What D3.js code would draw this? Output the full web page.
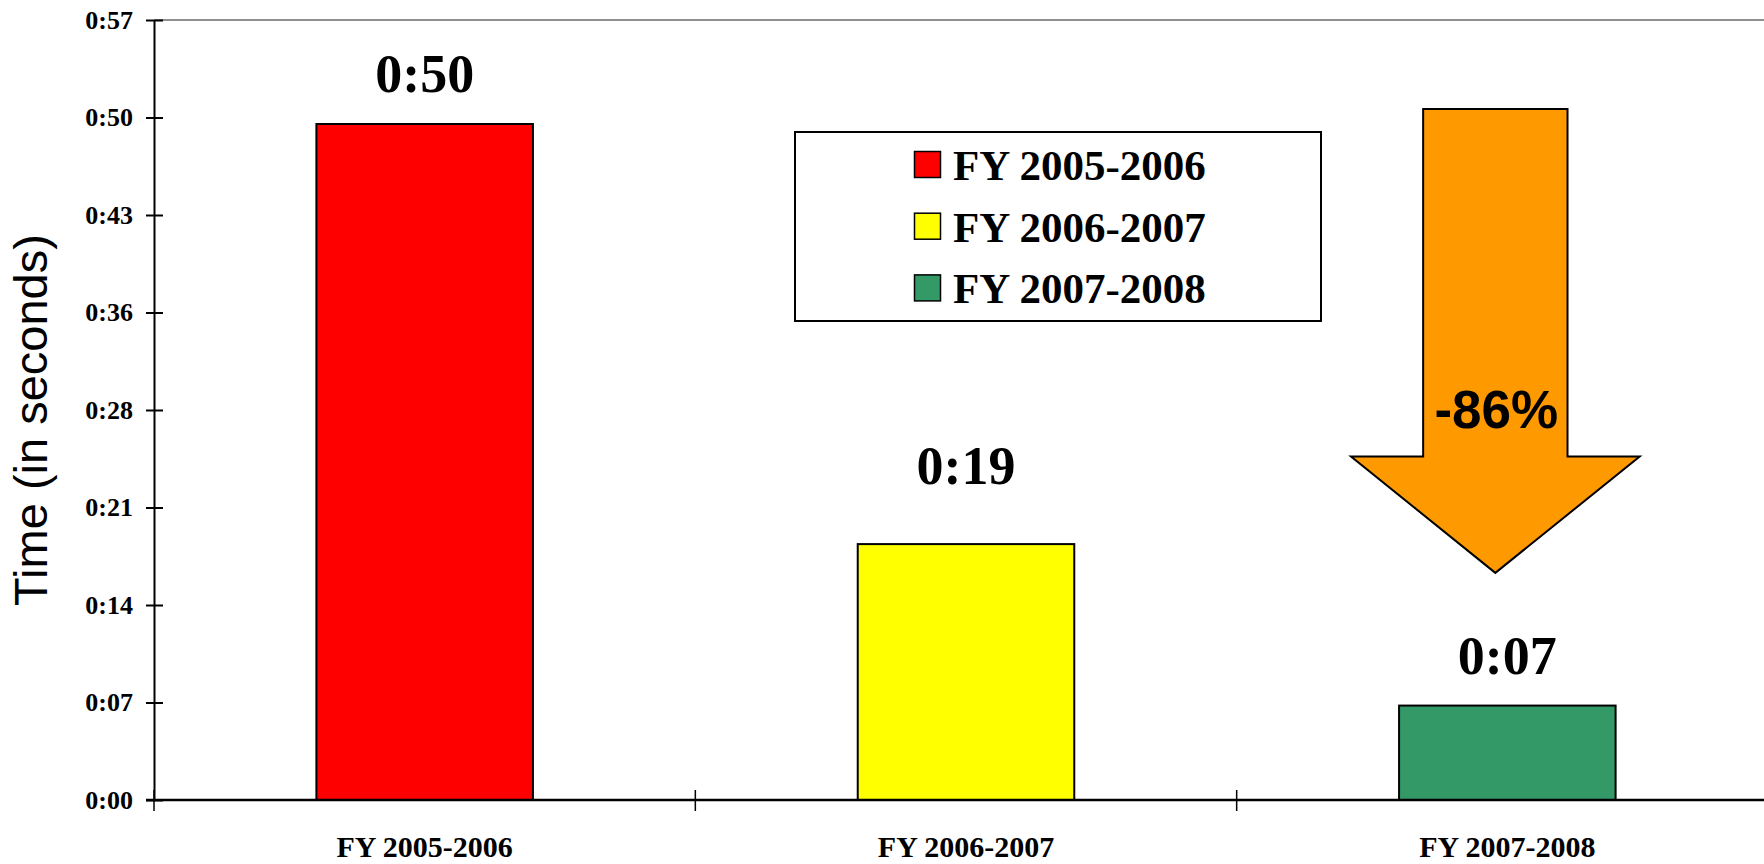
<!DOCTYPE html>
<html>
<head>
<meta charset="utf-8">
<script src="https://cdn.jsdelivr.net/npm/d3@7"></script>
<style>
  html, body { margin: 0; padding: 0; background: #fff; }
  svg { display: block; }
</style>
</head>
<body>
<svg class="display"></svg>
<script>
const categories = ['FY 2005-2006', 'FY 2006-2007', 'FY 2007-2008'];
const seconds = [49.4, 18.7, 6.9];
const valueLabels = ['0:50', '0:19', '0:07'];
const colors = ['#FF0000', '#FFFF00', '#339966'];
const yTickLabels = ['0:00', '0:07', '0:14', '0:21', '0:28', '0:36', '0:43', '0:50', '0:57'];
const yMax = 57;

// the change arrow, in seconds on the y axis
const arrowTop = 50.5;
const arrowNeck = 25.1;
const arrowTip = 16.6;
const arrowText = '-86%';

const width = 1764;
const height = 864;
const serif = '"Times New Roman", "Liberation Serif", serif';
const sans = 'Arial, "Liberation Sans", sans-serif';

const svg = d3.select('.display')
  .attr('width', width)
  .attr('height', height);

const x = d3.scaleBand()
  .domain(categories)
  .range([154, 1778])
  .paddingInner(0.6)
  .paddingOuter(0.3);

const y = d3.scaleLinear()
  .domain([0, yMax])
  .range([800, 20]);

const color = d3.scaleOrdinal().domain(categories).range(colors);

// top border of plot area
svg.append('line')
  .attr('x1', x.range()[0]).attr('x2', width)
  .attr('y1', y(yMax)).attr('y2', y(yMax))
  .attr('stroke', '#909090')
  .attr('stroke-width', 2);

// y axis
const yTicks = yTickLabels.map((d, i) => i * yMax / (yTickLabels.length - 1));
const yAxis = d3.axisLeft(y)
  .tickValues(yTicks)
  .tickFormat((d, i) => yTickLabels[i])
  .tickSizeOuter(0)
  .tickSizeInner(8)
  .tickPadding(13);

const gy = svg.append('g')
  .attr('transform', 'translate(' + x.range()[0] + ',0)')
  .call(yAxis);
gy.select('.domain').attr('stroke', '#000').attr('stroke-width', 2);
gy.selectAll('.tick line')
  .attr('x1', 9)
  .attr('stroke', '#000')
  .attr('stroke-width', 2);
gy.selectAll('.tick text')
  .attr('font-family', serif)
  .attr('font-weight', 'bold')
  .attr('font-size', 26)
  .attr('fill', '#000');

// bars
svg.append('g').selectAll('rect')
  .data(categories)
  .join('rect')
    .attr('x', d => x(d))
    .attr('y', (d, i) => y(seconds[i]))
    .attr('width', x.bandwidth())
    .attr('height', (d, i) => y(0) - y(seconds[i]))
    .attr('fill', d => color(d))
    .attr('stroke', '#000')
    .attr('stroke-width', 2);

// x axis line
svg.append('line')
  .attr('x1', x.range()[0] - 8).attr('x2', width)
  .attr('y1', y(0)).attr('y2', y(0))
  .attr('stroke', '#000')
  .attr('stroke-width', 2.5);

// category separators
const bounds = categories.map(d => x(d) - x.step() * x.paddingOuter());
svg.append('g').selectAll('line')
  .data(bounds)
  .join('line')
    .attr('x1', d => d).attr('x2', d => d)
    .attr('y1', y(0) - 10).attr('y2', y(0) + 11)
    .attr('stroke', '#000')
    .attr('stroke-width', 1.5);

// category labels
svg.append('g').selectAll('text')
  .data(categories)
  .join('text')
    .attr('x', d => x(d) + x.bandwidth() / 2)
    .attr('y', 857)
    .attr('text-anchor', 'middle')
    .attr('font-family', serif)
    .attr('font-weight', 'bold')
    .attr('font-size', 30)
    .text(d => d);

// value labels
const labelLift = [32, 60, 32];
svg.append('g').selectAll('text')
  .data(categories)
  .join('text')
    .attr('x', d => x(d) + x.bandwidth() / 2)
    .attr('y', (d, i) => y(seconds[i]) - labelLift[i])
    .attr('text-anchor', 'middle')
    .attr('font-family', serif)
    .attr('font-weight', 'bold')
    .attr('font-size', 54)
    .text((d, i) => valueLabels[i]);

// y title
svg.append('text')
  .attr('transform', 'translate(47,420) rotate(-90)')
  .attr('text-anchor', 'middle')
  .attr('font-family', sans)
  .attr('font-size', 47)
  .text('Time (in seconds)');

// legend
const legend = svg.append('g').attr('transform', 'translate(795,132)');
legend.append('rect')
  .attr('width', 526)
  .attr('height', 189)
  .attr('fill', '#fff')
  .attr('stroke', '#000')
  .attr('stroke-width', 2);

const item = legend.selectAll('g')
  .data(categories)
  .join('g')
    .attr('transform', (d, i) => 'translate(0,' + (48 + i * 61.7) + ')');
item.append('rect')
  .attr('x', 119.5)
  .attr('y', -28.5)
  .attr('width', 26)
  .attr('height', 26)
  .attr('fill', d => color(d))
  .attr('stroke', '#000')
  .attr('stroke-width', 1.5);
item.append('text')
  .attr('x', 158)
  .attr('y', 0)
  .attr('font-family', serif)
  .attr('font-weight', 'bold')
  .attr('font-size', 43)
  .text(d => d);

// change arrow over last bar
const last = categories[categories.length - 1];
const ax = x(last) + x.bandwidth() / 2 - 12;
const shaft = x.bandwidth() / 3;
const head = x.bandwidth() * 2 / 3;
const arrow = d3.path();
arrow.moveTo(ax - shaft, y(arrowTop));
arrow.lineTo(ax + shaft, y(arrowTop));
arrow.lineTo(ax + shaft, y(arrowNeck));
arrow.lineTo(ax + head, y(arrowNeck));
arrow.lineTo(ax, y(arrowTip));
arrow.lineTo(ax - head, y(arrowNeck));
arrow.lineTo(ax - shaft, y(arrowNeck));
arrow.closePath();

svg.append('path')
  .attr('d', arrow.toString())
  .attr('fill', '#FF9900')
  .attr('stroke', '#000')
  .attr('stroke-width', 2)
  .attr('stroke-linejoin', 'miter');

svg.append('text')
  .attr('x', ax + 1)
  .attr('y', 428)
  .attr('text-anchor', 'middle')
  .attr('font-family', sans)
  .attr('font-weight', 'bold')
  .attr('font-size', 53)
  .text(arrowText);
</script>
</body>
</html>
